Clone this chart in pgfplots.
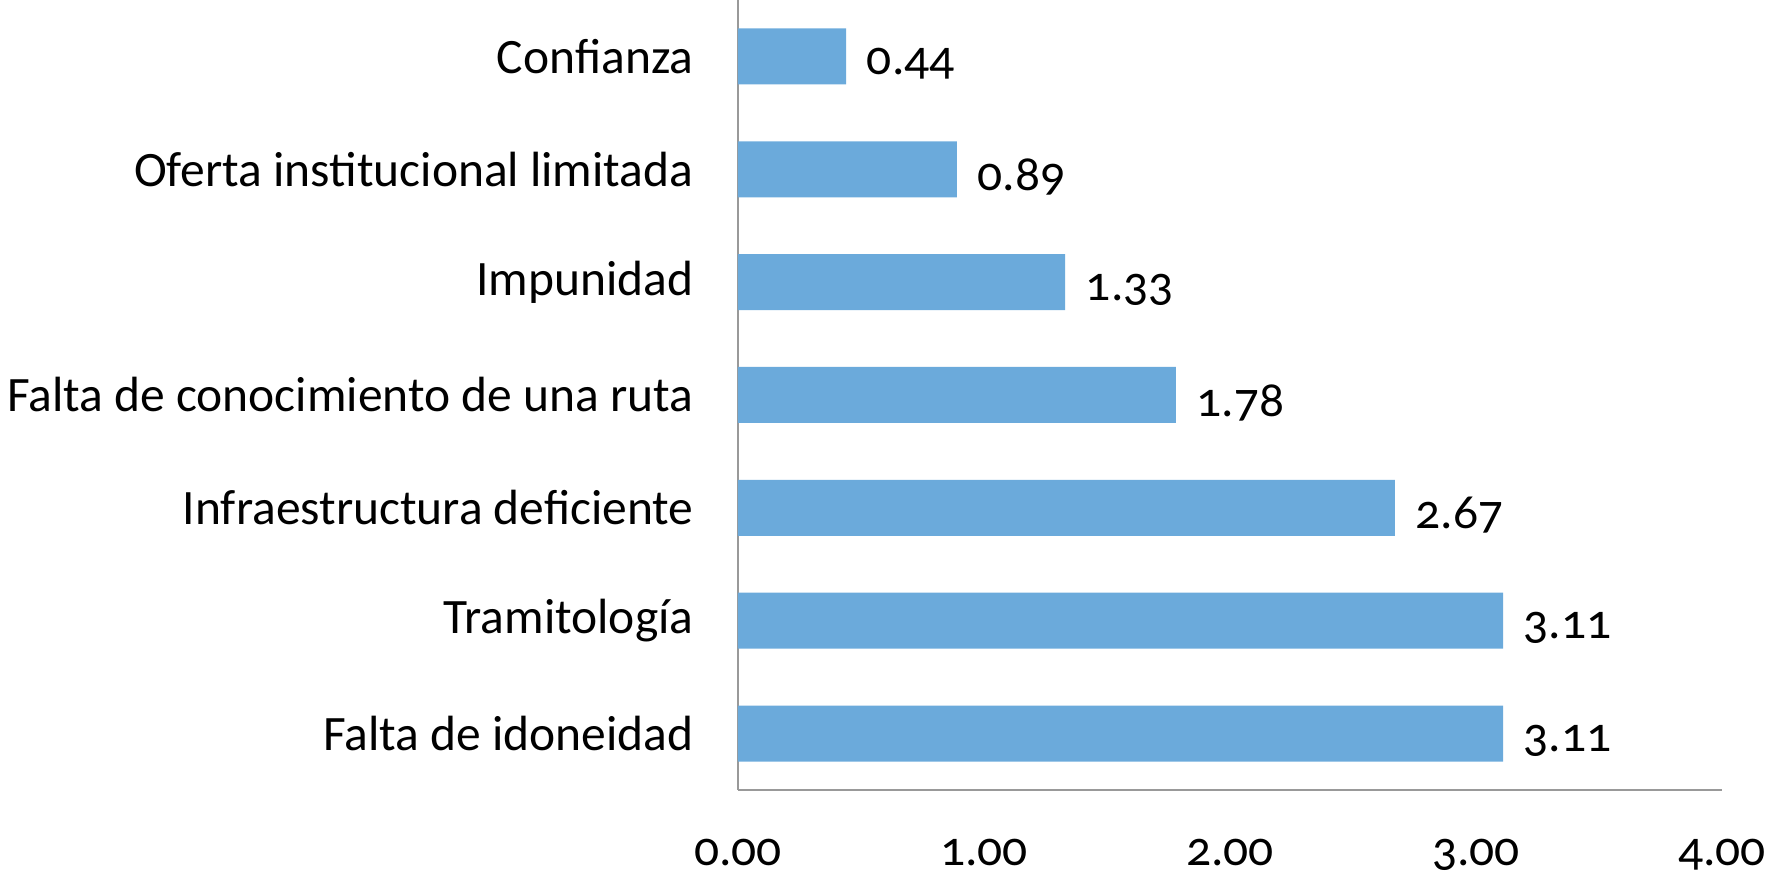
\documentclass[border=0pt]{standalone}
\usepackage{fontspec}
\setmainfont{Carlito}[Numbers=OldStyle]
\usepackage{pgfplots}
\pgfplotsset{compat=1.18}
\definecolor{barblue}{HTML}{6BAADB}
\begin{document}
\fontsize{19.8pt}{24pt}\selectfont
\begin{tikzpicture}
\begin{axis}[
  scale only axis,
  width=393.6pt, height=316pt,
  xbar, bar width=22.4pt,
  xmin=0, xmax=4,
  ymin=-0.5, ymax=6.5,
  axis x line*=bottom, axis y line*=left,
  axis line style={draw=gray!80, line width=0.6pt, -},
  xtick={0,1,2,3,4},
  ytick={0,1,2,3,4,5,6},
  yticklabels={Falta de idoneidad,Tramitología,Infraestructura deficiente,Falta de conocimiento de una ruta,Impunidad,Oferta institucional limitada,Confianza},
  major tick length=0pt,
  xticklabel style={yshift=-13pt},
  yticklabel style={xshift=-11pt},
  /pgf/number format/assume math mode=true,
  xticklabel={\pgfmathprintnumber[fixed,fixed zerofill,precision=2]{\tick}},
  nodes near coords={\pgfmathprintnumber[fixed,fixed zerofill,precision=2]{\pgfplotspointmeta}},
  nodes near coords style={anchor=west, xshift=1.5pt, yshift=-3pt},
  point meta=explicit,
  tick label style={font=\fontsize{19.8pt}{24pt}\selectfont},
  every node near coord/.append style={font=\fontsize{19.8pt}{24pt}\selectfont},
]
\addplot[fill=barblue, draw=none] table[meta=v] {
x y v
3.11 0 3.11
3.11 1 3.11
2.67 2 2.67
1.78 3 1.78
1.33 4 1.33
0.89 5 0.89
0.44 6 0.44
};
\end{axis}
\pgfresetboundingbox
\path ([xshift=-295.2pt]current axis.north west) rectangle ([xshift=412.4pt,yshift=-351.6pt]current axis.north west);
\end{tikzpicture}
\end{document}
